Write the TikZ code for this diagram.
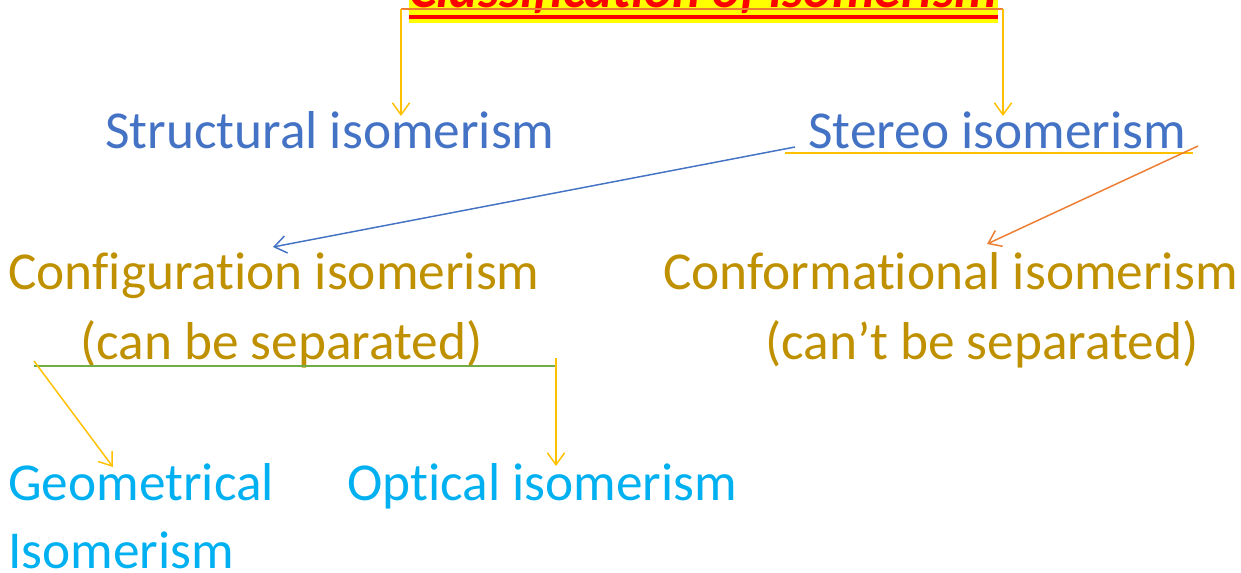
\documentclass[tikz,border=0pt]{standalone}
\usepackage{fontspec}
\setmainfont{Carlito}[Ligatures={NoCommon,NoContextual}]
\usetikzlibrary{arrows.meta}

\definecolor{giallo}{HTML}{FFFF00}
\definecolor{rosso}{HTML}{FF0000}
\definecolor{oro}{HTML}{FFC000}
\definecolor{arancio}{HTML}{ED7D31}
\definecolor{blu}{HTML}{4472C4}
\definecolor{verde}{HTML}{70AD47}
\definecolor{ocra}{HTML}{BF9000}
\definecolor{ciano}{HTML}{00B0F0}

\begin{document}
\begin{tikzpicture}[x=0.75pt, y=-0.75pt,
    testo/.style={anchor=base west, inner sep=0pt, font=\fontsize{40}{48}\selectfont},
    freccia/.style={line width=1.1pt, -{Straight Barb[length=9pt, width=13pt]}}]

        % area visibile (il titolo esce dal bordo superiore)
        \clip (0,0) rectangle (1241,572);

        % ==========================================
        % TITOLO: evidenziato e sottolineato
        % ==========================================

        \fill[giallo] (409,-10) rectangle (998,23);
        \node[anchor=base, inner sep=0pt, text=rosso,
              font=\fontsize{40}{48}\selectfont\bfseries\itshape] (titolo) at (703,7) {Classification of isomerism};
        \draw[rosso, line width=3pt] (409,17) -- (998,17);

        % ramo orizzontale sotto il titolo
        \coordinate (ramoS) at (401,9);
        \coordinate (ramoD) at (1003,9);
        \draw[arancio, line width=1.5pt] (ramoS) -- (ramoD);

        % ==========================================
        % PRIMO LIVELLO: strutturale / stereo
        % ==========================================

        \node[testo, text=blu] (strutt) at (105,148) {Structural isomerism};
        \node[testo, text=blu] (stereo) at (808,148) {Stereo isomerism};

        \coordinate (puntaS) at (401,116);
        \coordinate (puntaD) at (1003,116);
        \draw[freccia, oro] (ramoS) -- (puntaS);
        \draw[freccia, oro] (ramoD) -- (puntaD);

        % sottolineatura di Stereo
        \draw[oro, line width=2pt] (785,153) -- (1193,153);

        % ==========================================
        % SECONDO LIVELLO: configurazione / conformazione
        % ==========================================

        \node[testo, text=ocra] (config) at (8,289) {Configuration isomerism};
        \node[testo, text=ocra] (configsep) at (80,359) {(can be separated)};
        \node[testo, text=ocra] (conform) at (663,289) {Conformational isomerism};
        \node[testo, text=ocra] (conformsep) at (765,359) {(can’t be separated)};

        \coordinate (stereoS) at (795,147);
        \coordinate (stereoD) at (1198,146);
        \coordinate (puntaConfig) at (273,247);
        \coordinate (puntaConform) at (987,244);
        \draw[freccia, blu] (stereoS) -- (puntaConfig);
        \draw[freccia, arancio] (stereoD) -- (puntaConform);

        % ==========================================
        % TERZO LIVELLO: geometrica / ottica
        % ==========================================

        \coordinate (verdeS) at (34,366);
        \coordinate (verdeD) at (556,366);
        \draw[verde, line width=2pt] (verdeS) -- (verdeD);

        \node[testo, text=ciano] (geom) at (8,500) {Geometrical};
        \node[testo, text=ciano] (geomb) at (8,568) {Isomerism};
        \node[testo, text=ciano] (ottica) at (347,500) {Optical isomerism};

        \coordinate (inizioGeom) at (34,361);
        \coordinate (inizioOtt) at (556,358);
        \coordinate (puntaGeom) at (113,467);
        \coordinate (puntaOtt) at (556,466);
        \draw[freccia, oro] (inizioGeom) -- (puntaGeom);
        \draw[freccia, oro] (inizioOtt) -- (puntaOtt);

    \end{tikzpicture}
\end{document}
